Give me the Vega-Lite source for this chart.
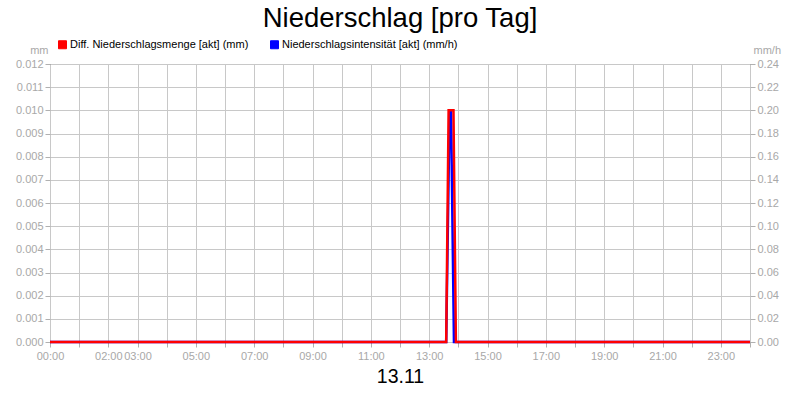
{
  "$schema": "https://vega.github.io/schema/vega-lite/v6.json",
  "width": 700,
  "height": 278,
  "autosize": "none",
  "padding": {"left": 50, "top": 64, "right": 50, "bottom": 58},
  "background": "white",
  "title": {
    "text": "Niederschlag [pro Tag]",
    "fontSize": 27.5,
    "fontWeight": "normal",
    "color": "black",
    "anchor": "middle",
    "frame": "group",
    "baseline": "alphabetic",
    "offset": 10,
    "dy": 25
  },
  "data": {
    "values": [
      {"time": "2024-11-13T00:00:00", "series": "Diff. Niederschlagsmenge [akt] (mm)", "value": 0},
      {"time": "2024-11-13T13:35:00", "series": "Diff. Niederschlagsmenge [akt] (mm)", "value": 0},
      {"time": "2024-11-13T13:40:00", "series": "Diff. Niederschlagsmenge [akt] (mm)", "value": 0.01},
      {"time": "2024-11-13T13:50:00", "series": "Diff. Niederschlagsmenge [akt] (mm)", "value": 0.01},
      {"time": "2024-11-13T13:55:00", "series": "Diff. Niederschlagsmenge [akt] (mm)", "value": 0},
      {"time": "2024-11-14T00:00:00", "series": "Diff. Niederschlagsmenge [akt] (mm)", "value": 0},
      {"time": "2024-11-13T00:00:00", "series": "Niederschlagsintensität [akt] (mm/h)", "value": 0},
      {"time": "2024-11-13T13:35:00", "series": "Niederschlagsintensität [akt] (mm/h)", "value": 0},
      {"time": "2024-11-13T13:42:00", "series": "Niederschlagsintensität [akt] (mm/h)", "value": 0.2},
      {"time": "2024-11-13T13:45:00", "series": "Niederschlagsintensität [akt] (mm/h)", "value": 0.2},
      {"time": "2024-11-13T13:51:00", "series": "Niederschlagsintensität [akt] (mm/h)", "value": 0},
      {"time": "2024-11-14T00:00:00", "series": "Niederschlagsintensität [akt] (mm/h)", "value": 0}
    ]
  },
  "encoding": {
    "x": {
      "field": "time",
      "type": "temporal",
      "scale": {
        "domain": [
          {"year": 2024, "month": 11, "date": 13, "hours": 0},
          {"year": 2024, "month": 11, "date": 14, "hours": 0}
        ],
        "nice": false
      },
      "axis": {
        "title": "13.11",
        "titleFontSize": 19.5,
        "titleFontWeight": "normal",
        "titleColor": "black",
        "titlePadding": 6,
        "labelExpr": "timeFormat(datum.value, '%d') == '13' && ((hours(datum.value) % 2 == 1 && hours(datum.value) != 1) || hours(datum.value) == 0 || hours(datum.value) == 2) ? timeFormat(datum.value, '%H:%M') : ''",
        "labelOverlap": false,
        "labelFlush": false,
        "labelPadding": 3,
        "grid": true
      }
    },
    "color": {
      "field": "series",
      "type": "nominal",
      "scale": {
        "domain": ["Diff. Niederschlagsmenge [akt] (mm)", "Niederschlagsintensität [akt] (mm/h)"],
        "range": ["#ff0000", "#0000ff"]
      },
      "legend": {
        "title": null,
        "orient": "none",
        "legendX": 7,
        "legendY": -25,
        "direction": "horizontal",
        "symbolType": "square",
        "symbolSize": 64,
        "symbolStrokeWidth": 1,
        "labelFontSize": 11,
        "labelColor": "black",
        "labelOffset": 2,
        "labelLimit": 0,
        "columnPadding": 19,
        "padding": 0,
        "encode": {
          "symbols": {
            "update": {
              "fill": {"scale": "color", "field": "value"},
              "stroke": {"value": "#000000"}
            }
          }
        }
      }
    }
  },
  "layer": [
    {
      "transform": [{"filter": "datum.series == 'Niederschlagsintensität [akt] (mm/h)'"}],
      "mark": {"type": "line", "strokeWidth": 2.5, "interpolate": "linear"},
      "encoding": {
        "y": {
          "field": "value",
          "type": "quantitative",
          "scale": {"domain": [0, 0.24], "nice": false},
          "axis": {
            "orient": "right",
            "title": "mm/h",
            "titleAngle": 0,
            "titleAlign": "left",
            "titleBaseline": "alphabetic",
            "titleX": 3,
            "titleY": -11,
            "values": [0, 0.02, 0.04, 0.06, 0.08, 0.1, 0.12, 0.14, 0.16, 0.18, 0.2, 0.22, 0.24],
            "format": ".2f",
            "grid": false,
            "labelPadding": 2
          }
        }
      }
    },
    {
      "transform": [{"filter": "datum.series == 'Diff. Niederschlagsmenge [akt] (mm)'"}],
      "mark": {"type": "line", "strokeWidth": 2.5, "interpolate": "linear"},
      "encoding": {
        "y": {
          "field": "value",
          "type": "quantitative",
          "scale": {"domain": [0, 0.012], "nice": false},
          "axis": {
            "orient": "left",
            "title": "mm",
            "titleAngle": 0,
            "titleAlign": "right",
            "titleBaseline": "alphabetic",
            "titleX": -2,
            "titleY": -11,
            "values": [0, 0.001, 0.002, 0.003, 0.004, 0.005, 0.006, 0.007, 0.008, 0.009, 0.01, 0.011, 0.012],
            "format": ".3f",
            "grid": true,
            "labelPadding": 2
          }
        }
      }
    }
  ],
  "resolve": {"scale": {"y": "independent"}},
  "config": {
    "font": "Liberation Sans",
    "view": {"stroke": "#000000", "strokeWidth": 1},
    "axis": {
      "domain": false,
      "labelFontSize": 11,
      "labelColor": "#a8a8a8",
      "labelFont": "Liberation Sans",
      "titleFont": "Liberation Sans",
      "titleFontSize": 11,
      "titleFontWeight": "normal",
      "titleColor": "#a8a8a8",
      "tickColor": "#b0b0b0",
      "tickSize": 5,
      "gridColor": "#c8c8c8",
      "gridOpacity": 1
    },
    "legend": {"labelFont": "Liberation Sans"}
  }
}
